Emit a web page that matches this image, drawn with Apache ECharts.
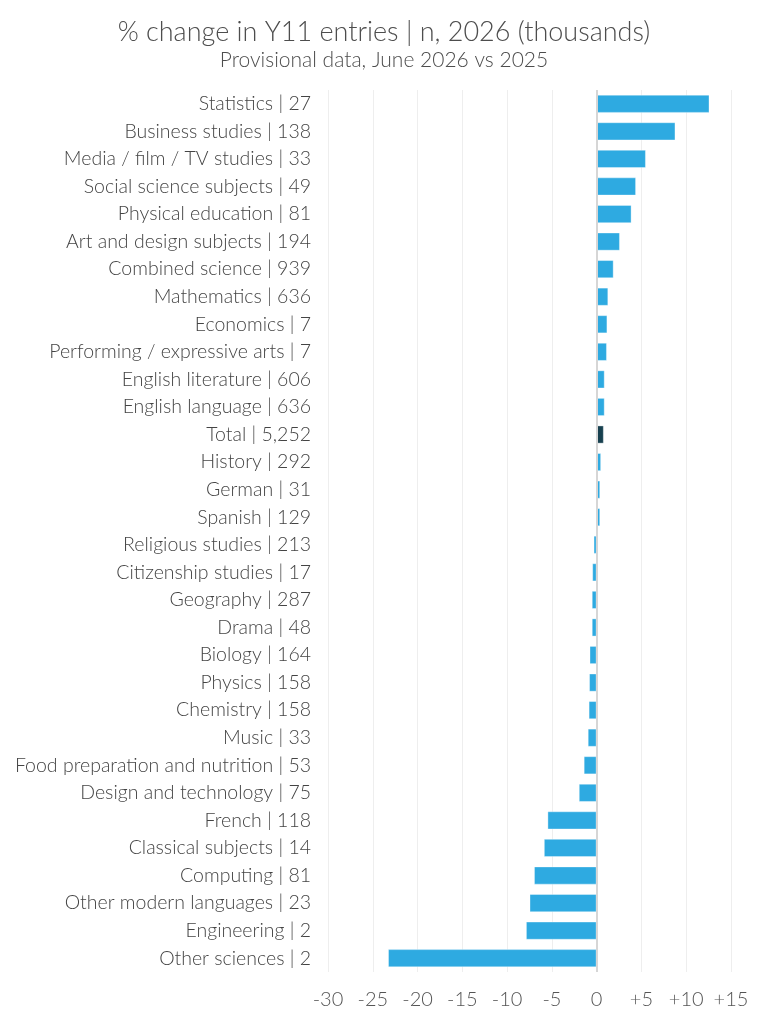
<!DOCTYPE html>
<html>
<head>
<meta charset="utf-8">
<script src="https://cdn.jsdelivr.net/npm/echarts@6/dist/echarts.min.js"></script>
<style>
  html, body { margin: 0; padding: 0; background: #fff; }
  #chart { width: 768px; height: 1024px; }
</style>
</head>
<body>
<div id="chart"></div>
<script>
const subjects = [
    "Statistics | 27", "Business studies | 138", "Media / film / TV studies | 33", "Social science subjects | 49",
    "Physical education | 81", "Art and design subjects | 194", "Combined science | 939", "Mathematics | 636",
    "Economics | 7", "Performing / expressive arts | 7", "English literature | 606", "English language | 636",
    "Total | 5,252", "History | 292", "German | 31", "Spanish | 129",
    "Religious studies | 213", "Citizenship studies | 17", "Geography | 287", "Drama | 48",
    "Biology | 164", "Physics | 158", "Chemistry | 158", "Music | 33",
    "Food preparation and nutrition | 53", "Design and technology | 75", "French | 118", "Classical subjects | 14",
    "Computing | 81", "Other modern languages | 23", "Engineering | 2", "Other sciences | 2"
]
const change = [
    12.6, 8.8, 5.5, 4.4,
    3.9, 2.6, 1.9, 1.3,
    1.2, 1.15, 0.9, 0.9,
    0.8, 0.5, 0.4, 0.4,
    -0.35, -0.5, -0.55, -0.55,
    -0.8, -0.85, -0.9, -1.0,
    -1.45, -2.0, -5.5, -5.9,
    -7.0, -7.5, -7.9, -23.3
]
const highlight = "Total | 5,252"

const FONT = "Lato"
const chart = echarts.init(document.getElementById("chart"))

chart.setOption({
    animation: false,
    title: {
        left: "center", top: 14,
        text: "% change in Y11 entries | n, 2026 (thousands)",
        subtext: "Provisional data, June 2026 vs 2025",
        itemGap: 4,
        textStyle: { fontFamily: FONT, fontSize: 27, fontWeight: 300, color: "#4d4d4d" },
        subtextStyle: { fontFamily: FONT, fontSize: 21, fontWeight: 300, color: "#4d4d4d" }
    },
    grid: { left: 328, right: 37, top: 90, bottom: 52 },
    xAxis: {
        type: "value", min: -30, max: 15, interval: 5,
        axisLine: { show: false }, axisTick: { show: false },
        splitLine: { lineStyle: { color: "#eee" } },
        axisLabel: {
            fontFamily: FONT, fontSize: 20, fontWeight: 300, color: "#555", margin: 18,
            formatter: v => v > 0 ? "+" + v : "" + v
        }
    },
    yAxis: {
        type: "category", inverse: true, data: subjects,
        axisLine: { show: false }, axisTick: { show: false },
        axisLabel: { fontFamily: FONT, fontSize: 19.5, fontWeight: 300, color: "#444", margin: 17 }
    },
    series: [{
        type: "bar", barCategoryGap: "34%",
        data: change.map((v, i) => ({
            value: v,
            itemStyle: { color: subjects[i] === highlight ? "#17404f" : "#2eaae1" }
        })),
        itemStyle: { borderColor: "rgba(255,255,255,0.35)", borderWidth: 1 },
        markLine: {
            silent: true, symbol: "none", label: { show: false },
            lineStyle: { color: "#d6d6d6", type: "solid", width: 2 },
            data: [{ xAxis: 0 }]
        }
    }]
})
</script>
</body>
</html>
